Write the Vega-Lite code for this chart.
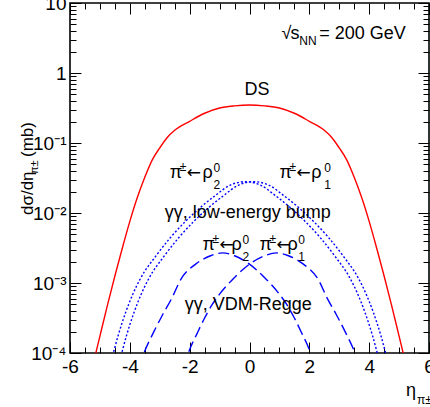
{
  "$schema": "https://vega.github.io/schema/vega-lite/v6.json",
  "width": 359,
  "height": 350,
  "autosize": "none",
  "padding": {"left": 70, "top": 3, "right": 1, "bottom": 54},
  "background": "white",
  "config": {
    "view": {"stroke": "black", "strokeWidth": 1.6},
    "font": "Liberation Sans",
    "axis": {"domain": false, "grid": false, "tickColor": "black", "tickWidth": 1, "labelFont": "Liberation Sans", "labelFontSize": 19, "labelColor": "black", "title": null, "labelFlush": false, "labelOverlap": false, "labelBound": false}
  },
  "datasets": {
    "curves": [
      {"s": "DS", "x": -5.25, "y": 0.0000631}, {"s": "DS", "x": -5, "y": 0.000174}, {"s": "DS", "x": -4.75, "y": 0.000479}, {"s": "DS", "x": -4.5, "y": 0.00126}, {"s": "DS", "x": -4.25, "y": 0.00316}, {"s": "DS", "x": -4, "y": 0.00759}, {"s": "DS", "x": -3.75, "y": 0.0166}, {"s": "DS", "x": -3.5, "y": 0.0324}, {"s": "DS", "x": -3.25, "y": 0.0575}, {"s": "DS", "x": -3, "y": 0.0851}, {"s": "DS", "x": -2.75, "y": 0.12}, {"s": "DS", "x": -2.5, "y": 0.152}, {"s": "DS", "x": -2, "y": 0.204}, {"s": "DS", "x": -1.5, "y": 0.266}, {"s": "DS", "x": -1, "y": 0.316}, {"s": "DS", "x": -0.5, "y": 0.339}, {"s": "DS", "x": 0, "y": 0.349}, {"s": "DS", "x": 0.5, "y": 0.339}, {"s": "DS", "x": 1, "y": 0.316}, {"s": "DS", "x": 1.5, "y": 0.266}, {"s": "DS", "x": 2, "y": 0.204}, {"s": "DS", "x": 2.5, "y": 0.152}, {"s": "DS", "x": 2.75, "y": 0.12}, {"s": "DS", "x": 3, "y": 0.0851}, {"s": "DS", "x": 3.25, "y": 0.0575}, {"s": "DS", "x": 3.5, "y": 0.0324}, {"s": "DS", "x": 3.75, "y": 0.0166}, {"s": "DS", "x": 4, "y": 0.00759}, {"s": "DS", "x": 4.25, "y": 0.00316}, {"s": "DS", "x": 4.5, "y": 0.00126}, {"s": "DS", "x": 4.75, "y": 0.000479}, {"s": "DS", "x": 5, "y": 0.000174}, {"s": "DS", "x": 5.25, "y": 0.0000631},
      {"s": "dot2", "x": -4.64, "y": 0.0000708}, {"s": "dot2", "x": -4.39, "y": 0.000178}, {"s": "dot2", "x": -4.14, "y": 0.00038}, {"s": "dot2", "x": -3.89, "y": 0.000708}, {"s": "dot2", "x": -3.64, "y": 0.00117}, {"s": "dot2", "x": -3.14, "y": 0.0024}, {"s": "dot2", "x": -2.64, "y": 0.00447}, {"s": "dot2", "x": -2.14, "y": 0.00759}, {"s": "dot2", "x": -1.64, "y": 0.012}, {"s": "dot2", "x": -1.14, "y": 0.0178}, {"s": "dot2", "x": -0.64, "y": 0.0251}, {"s": "dot2", "x": -0.14, "y": 0.028}, {"s": "dot2", "x": 0.36, "y": 0.0251}, {"s": "dot2", "x": 0.86, "y": 0.0178}, {"s": "dot2", "x": 1.36, "y": 0.012}, {"s": "dot2", "x": 1.86, "y": 0.00759}, {"s": "dot2", "x": 2.36, "y": 0.00447}, {"s": "dot2", "x": 2.86, "y": 0.0024}, {"s": "dot2", "x": 3.36, "y": 0.00117}, {"s": "dot2", "x": 3.61, "y": 0.000708}, {"s": "dot2", "x": 3.86, "y": 0.00038}, {"s": "dot2", "x": 4.11, "y": 0.000178}, {"s": "dot2", "x": 4.36, "y": 0.0000708},
      {"s": "dot1", "x": -4.36, "y": 0.0000708}, {"s": "dot1", "x": -4.11, "y": 0.000178}, {"s": "dot1", "x": -3.86, "y": 0.00038}, {"s": "dot1", "x": -3.61, "y": 0.000708}, {"s": "dot1", "x": -3.36, "y": 0.00117}, {"s": "dot1", "x": -2.86, "y": 0.0024}, {"s": "dot1", "x": -2.36, "y": 0.00447}, {"s": "dot1", "x": -1.86, "y": 0.00759}, {"s": "dot1", "x": -1.36, "y": 0.012}, {"s": "dot1", "x": -0.86, "y": 0.0178}, {"s": "dot1", "x": -0.36, "y": 0.0251}, {"s": "dot1", "x": 0.14, "y": 0.028}, {"s": "dot1", "x": 0.64, "y": 0.0251}, {"s": "dot1", "x": 1.14, "y": 0.0178}, {"s": "dot1", "x": 1.64, "y": 0.012}, {"s": "dot1", "x": 2.14, "y": 0.00759}, {"s": "dot1", "x": 2.64, "y": 0.00447}, {"s": "dot1", "x": 3.14, "y": 0.0024}, {"s": "dot1", "x": 3.64, "y": 0.00117}, {"s": "dot1", "x": 3.89, "y": 0.000708}, {"s": "dot1", "x": 4.14, "y": 0.00038}, {"s": "dot1", "x": 4.39, "y": 0.000178}, {"s": "dot1", "x": 4.64, "y": 0.0000708},
      {"s": "dash1", "x": -2.2, "y": 0.0000631}, {"s": "dash1", "x": -2, "y": 0.000112}, {"s": "dash1", "x": -1.75, "y": 0.000191}, {"s": "dash1", "x": -1.5, "y": 0.000316}, {"s": "dash1", "x": -1.25, "y": 0.00049}, {"s": "dash1", "x": -1, "y": 0.000692}, {"s": "dash1", "x": -0.5, "y": 0.0012}, {"s": "dash1", "x": 0, "y": 0.00186}, {"s": "dash1", "x": 0.5, "y": 0.00245}, {"s": "dash1", "x": 0.9, "y": 0.00269}, {"s": "dash1", "x": 1.3, "y": 0.00245}, {"s": "dash1", "x": 1.8, "y": 0.00186}, {"s": "dash1", "x": 2.3, "y": 0.00112}, {"s": "dash1", "x": 2.6, "y": 0.000603}, {"s": "dash1", "x": 2.9, "y": 0.000355}, {"s": "dash1", "x": 3.2, "y": 0.0002}, {"s": "dash1", "x": 3.5, "y": 0.000107}, {"s": "dash1", "x": 3.7, "y": 0.0000631},
      {"s": "dash2", "x": 2.2, "y": 0.0000631}, {"s": "dash2", "x": 2, "y": 0.000112}, {"s": "dash2", "x": 1.75, "y": 0.000191}, {"s": "dash2", "x": 1.5, "y": 0.000316}, {"s": "dash2", "x": 1.25, "y": 0.00049}, {"s": "dash2", "x": 1, "y": 0.000692}, {"s": "dash2", "x": 0.5, "y": 0.0012}, {"s": "dash2", "x": 0, "y": 0.00186}, {"s": "dash2", "x": -0.5, "y": 0.00245}, {"s": "dash2", "x": -0.9, "y": 0.00269}, {"s": "dash2", "x": -1.3, "y": 0.00245}, {"s": "dash2", "x": -1.8, "y": 0.00186}, {"s": "dash2", "x": -2.3, "y": 0.00112}, {"s": "dash2", "x": -2.6, "y": 0.000603}, {"s": "dash2", "x": -2.9, "y": 0.000355}, {"s": "dash2", "x": -3.2, "y": 0.0002}, {"s": "dash2", "x": -3.5, "y": 0.000107}, {"s": "dash2", "x": -3.7, "y": 0.0000631}
    ],
    "labels": [
      {"k": "main", "x": -0.167, "y": 0.485, "t": "DS"},
      {"k": "main", "x": -2.833, "y": 0.00849, "t": "γγ, low-energy bump"},
      {"k": "main", "x": -2.167, "y": 0.000411, "t": "γγ, VDM-Regge"},
      {"k": "main", "x": -2.667, "y": 0.0316, "t": "π"},
      {"k": "main", "x": -1.567, "y": 0.0316, "t": "ρ"},
      {"k": "main", "x": 1.0, "y": 0.0316, "t": "π"},
      {"k": "main", "x": 2.067, "y": 0.0316, "t": "ρ"},
      {"k": "main", "x": -1.567, "y": 0.002958, "t": "π"},
      {"k": "main", "x": -0.6, "y": 0.002958, "t": "ρ"},
      {"k": "main", "x": 0.333, "y": 0.002958, "t": "π"},
      {"k": "main", "x": 1.267, "y": 0.002958, "t": "ρ"},
      {"k": "main", "x": 1.067, "y": 3.06, "t": "√"},
      {"k": "main", "x": 1.367, "y": 3.06, "t": "s"},
      {"k": "main", "x": 2.333, "y": 3.06, "t": "= 200 GeV"},
      {"k": "main", "x": 5.233, "y": 0.0000243, "t": "η"},
      {"k": "arrow", "x": -2.1, "y": 0.0316, "t": "←"},
      {"k": "arrow", "x": 1.567, "y": 0.0316, "t": "←"},
      {"k": "arrow", "x": -1.0, "y": 0.002958, "t": "←"},
      {"k": "arrow", "x": 0.9, "y": 0.002958, "t": "←"},
      {"k": "small", "x": -2.333, "y": 0.0398, "t": "±"},
      {"k": "small", "x": -1.2, "y": 0.0385, "t": "0"},
      {"k": "small", "x": -1.2, "y": 0.022, "t": "2"},
      {"k": "small", "x": 1.333, "y": 0.0398, "t": "±"},
      {"k": "small", "x": 2.5, "y": 0.0385, "t": "0"},
      {"k": "small", "x": 2.5, "y": 0.022, "t": "1"},
      {"k": "small", "x": -1.233, "y": 0.00373, "t": "±"},
      {"k": "small", "x": -0.233, "y": 0.003606, "t": "0"},
      {"k": "small", "x": -0.233, "y": 0.002062, "t": "2"},
      {"k": "small", "x": 0.667, "y": 0.00373, "t": "±"},
      {"k": "small", "x": 1.633, "y": 0.003606, "t": "0"},
      {"k": "small", "x": 1.633, "y": 0.002062, "t": "1"},
      {"k": "small", "x": 1.667, "y": 2.51, "t": "NN"},
      {"k": "small", "x": 5.6, "y": 0.0000187, "t": "π±"},
      {"k": "ymain", "x": -7.233, "y": 0.00936, "t": "dσ/dη"},
      {"k": "ymain", "x": -7.233, "y": 0.0631, "t": "(mb)"},
      {"k": "ysmall", "x": -7.067, "y": 0.0361, "t": "π±"}
    ]
  },
  "layer": [
    {
      "data": {"name": "curves"},
      "transform": [{"filter": "datum.s === 'DS'"}],
      "mark": {"type": "line", "color": "#ff0000", "strokeWidth": 1.4, "interpolate": "monotone", "clip": true},
      "encoding": {
        "x": {"field": "x", "type": "quantitative", "scale": {"domain": [-6, 6], "nice": false, "zero": false},
              "axis": {"orient": "bottom", "values": [-6, -4, -2, 0, 2, 4, 6], "tickSize": -11, "labelPadding": 15, "labelExpr": "'' + datum.value"}},
        "y": {"field": "y", "type": "quantitative", "scale": {"type": "log", "domain": [0.0001, 10], "nice": false},
              "axis": {"orient": "left", "values": [0.0001, 0.001, 0.01, 0.1, 1, 10], "tickSize": -11, "labelPadding": 15,
                       "labelExpr": "datum.value >= 5 ? '10' : datum.value >= 0.5 ? '1' : datum.value >= 0.05 ? '10⁻¹' : datum.value >= 0.005 ? '10⁻²' : datum.value >= 0.0005 ? '10⁻³' : '10⁻⁴'"}}
      }
    },
    {
      "data": {"name": "curves"},
      "transform": [{"filter": "datum.s === 'dot1' || datum.s === 'dot2'"}],
      "mark": {"type": "line", "color": "#0000ff", "strokeWidth": 1.4, "strokeDash": [2, 2], "interpolate": "monotone", "clip": true},
      "encoding": {
        "x": {"field": "x", "type": "quantitative", "scale": {"domain": [-6, 6], "nice": false, "zero": false},
              "axis": {"orient": "bottom", "values": [-5.5, -5, -4.5, -3.5, -3, -2.5, -1.5, -1, -0.5, 0.5, 1, 1.5, 2.5, 3, 3.5, 4.5, 5, 5.5], "tickSize": -6, "labels": false}},
        "y": {"field": "y", "type": "quantitative", "scale": {"type": "log", "domain": [0.0001, 10], "nice": false},
              "axis": {"orient": "left", "values": [0.0002, 0.0003, 0.0004, 0.0005, 0.0006, 0.0007, 0.0008, 0.0009, 0.002, 0.003, 0.004, 0.005, 0.006, 0.007, 0.008, 0.009, 0.02, 0.03, 0.04, 0.05, 0.06, 0.07, 0.08, 0.09, 0.2, 0.3, 0.4, 0.5, 0.6, 0.7, 0.8, 0.9, 2, 3, 4, 5, 6, 7, 8, 9], "tickSize": -6, "labels": false}},
        "detail": {"field": "s"}
      }
    },
    {
      "data": {"name": "curves"},
      "transform": [{"filter": "datum.s === 'dash1' || datum.s === 'dash2'"}],
      "mark": {"type": "line", "color": "#0000ff", "strokeWidth": 1.4, "strokeDash": [11, 5], "interpolate": "monotone", "clip": true},
      "encoding": {
        "x": {"field": "x", "type": "quantitative", "scale": {"domain": [-6, 6], "nice": false, "zero": false},
              "axis": {"orient": "top", "values": [-6, -4, -2, 0, 2, 4, 6], "tickSize": -11, "labels": false}},
        "y": {"field": "y", "type": "quantitative", "scale": {"type": "log", "domain": [0.0001, 10], "nice": false},
              "axis": {"orient": "right", "values": [0.0001, 0.001, 0.01, 0.1, 1, 10], "tickSize": -11, "labels": false}},
        "detail": {"field": "s"}
      }
    },
    {
      "data": {"name": "labels"},
      "transform": [{"filter": "datum.k === 'main'"}],
      "mark": {"type": "text", "font": "Liberation Sans", "fontSize": 18, "align": "left", "baseline": "alphabetic", "color": "black"},
      "encoding": {
        "x": {"field": "x", "type": "quantitative", "scale": {"domain": [-6, 6], "nice": false, "zero": false},
              "axis": {"orient": "top", "values": [-5.5, -5, -4.5, -3.5, -3, -2.5, -1.5, -1, -0.5, 0.5, 1, 1.5, 2.5, 3, 3.5, 4.5, 5, 5.5], "tickSize": -6, "labels": false}},
        "y": {"field": "y", "type": "quantitative", "scale": {"type": "log", "domain": [0.0001, 10], "nice": false},
              "axis": {"orient": "right", "values": [0.0002, 0.0003, 0.0004, 0.0005, 0.0006, 0.0007, 0.0008, 0.0009, 0.002, 0.003, 0.004, 0.005, 0.006, 0.007, 0.008, 0.009, 0.02, 0.03, 0.04, 0.05, 0.06, 0.07, 0.08, 0.09, 0.2, 0.3, 0.4, 0.5, 0.6, 0.7, 0.8, 0.9, 2, 3, 4, 5, 6, 7, 8, 9], "tickSize": -6, "labels": false}},
        "text": {"field": "t"}
      }
    },
    {
      "data": {"name": "labels"},
      "transform": [{"filter": "datum.k === 'arrow'"}],
      "mark": {"type": "text", "font": "DejaVu Sans", "fontSize": 17, "align": "left", "baseline": "alphabetic", "color": "black"},
      "encoding": {
        "x": {"field": "x", "type": "quantitative", "scale": {"domain": [-6, 6], "nice": false, "zero": false}, "axis": null},
        "y": {"field": "y", "type": "quantitative", "scale": {"type": "log", "domain": [0.0001, 10], "nice": false}, "axis": null},
        "text": {"field": "t"}
      }
    },
    {
      "data": {"name": "labels"},
      "transform": [{"filter": "datum.k === 'small'"}],
      "mark": {"type": "text", "font": "Liberation Sans", "fontSize": 12, "align": "left", "baseline": "alphabetic", "color": "black"},
      "encoding": {
        "x": {"field": "x", "type": "quantitative", "scale": {"domain": [-6, 6], "nice": false, "zero": false}, "axis": null},
        "y": {"field": "y", "type": "quantitative", "scale": {"type": "log", "domain": [0.0001, 10], "nice": false}, "axis": null},
        "text": {"field": "t"}
      }
    },
    {
      "data": {"name": "labels"},
      "transform": [{"filter": "datum.k === 'ymain'"}],
      "mark": {"type": "text", "font": "Liberation Sans", "fontSize": 17, "align": "left", "baseline": "alphabetic", "angle": 270, "color": "black"},
      "encoding": {
        "x": {"field": "x", "type": "quantitative", "scale": {"domain": [-6, 6], "nice": false, "zero": false}, "axis": null},
        "y": {"field": "y", "type": "quantitative", "scale": {"type": "log", "domain": [0.0001, 10], "nice": false}, "axis": null},
        "text": {"field": "t"}
      }
    },
    {
      "data": {"name": "labels"},
      "transform": [{"filter": "datum.k === 'ysmall'"}],
      "mark": {"type": "text", "font": "Liberation Sans", "fontSize": 11, "align": "left", "baseline": "alphabetic", "angle": 270, "color": "black"},
      "encoding": {
        "x": {"field": "x", "type": "quantitative", "scale": {"domain": [-6, 6], "nice": false, "zero": false}, "axis": null},
        "y": {"field": "y", "type": "quantitative", "scale": {"type": "log", "domain": [0.0001, 10], "nice": false}, "axis": null},
        "text": {"field": "t"}
      }
    }
  ],
  "resolve": {"axis": {"x": "independent", "y": "independent"}}
}
